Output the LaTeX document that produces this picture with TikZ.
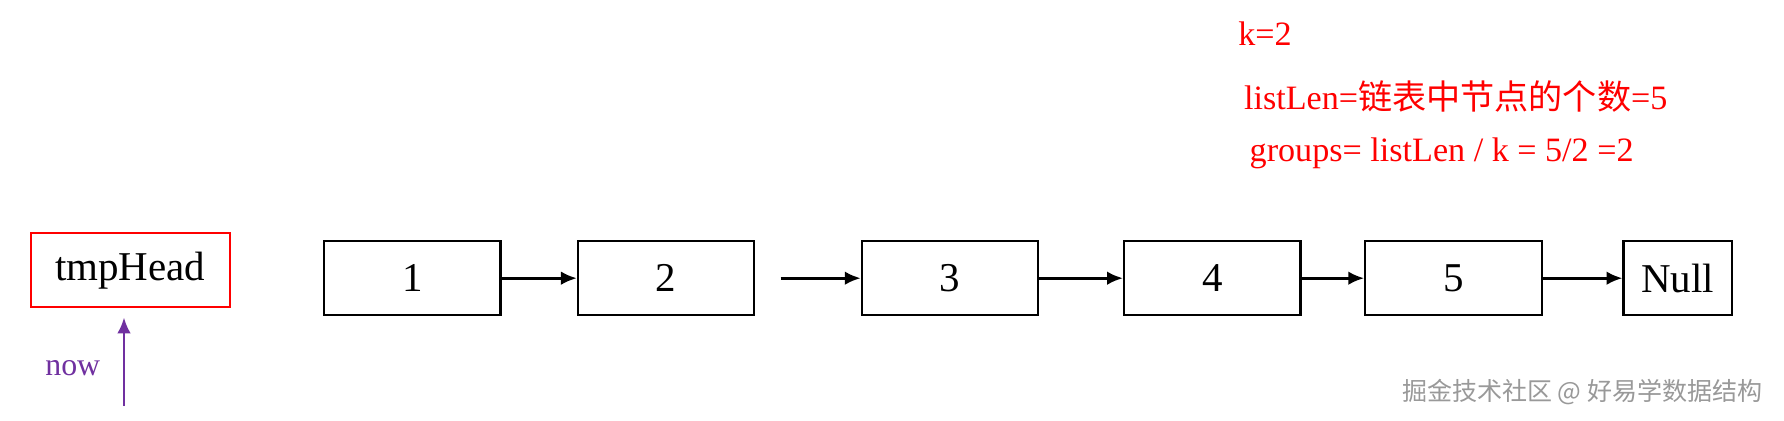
\documentclass[tikz,border=0pt]{standalone}
\usepackage{fontspec}
\setmainfont{Liberation Serif}
\newfontfamily\cjk{Noto Sans CJK SC}
\usetikzlibrary{arrows.meta}
\definecolor{pur}{RGB}{112,48,160}
\begin{document}
\begin{tikzpicture}[x=0.5pt,y=-0.5pt,
  nd/.style={draw,line width=1pt,minimum width=77.5pt,minimum height=32.5pt,inner sep=0pt,font=\fontsize{18}{20}\selectfont},
  arr/.style={-{Latex[length=7pt,width=6pt]},line width=1.2pt},
  red txt/.style={text=red,font=\fontsize{15}{18}\selectfont,anchor=west,inner sep=0pt}]
\useasboundingbox (0,0) rectangle (1568,370);
\node[nd,draw=red,minimum width=87.5pt] (th) at (114.5,237.5) {tmpHead};
\node[nd] (n1) at (362.5,244.5) {1};
\node[nd] (n2) at (585.5,244.5) {2};
\node[nd] (n3) at (835,244.5) {3};
\node[nd] (n4) at (1065.5,244.5) {4};
\node[nd] (n5) at (1277.5,244.5) {5};
\node[nd,minimum width=47.5pt] (nl) at (1474.5,244.5) {Null};
\coordinate (f) at (686,244.5);
\draw[arr] (n1) -- (n2);
\draw[arr] (f) -- (n3);
\draw[arr] (n3) -- (n4);
\draw[arr] (n4) -- (n5);
\draw[arr] (n5) -- (nl);
\coordinate (nb) at (109,357);
\coordinate (nt) at (109,279);
\draw[arr,draw=pur,fill=pur] (nb) -- (nt);
\node[text=pur,font=\fontsize{14}{16}\selectfont] (now) at (64,324) {now};
\node[red txt] (k) at (1088,30) {k=2};
\node[red txt] (ll) at (1093,85) {listLen={\cjk 链表中节点的个数}=5};
\node[red txt] (gr) at (1098,135) {groups= listLen / k = 5/2 =2};
\node[text=gray!80,font=\cjk\fontsize{11}{13}\selectfont,anchor=east] (wm) at (1556,345) {掘金技术社区 @ 好易学数据结构};
\end{tikzpicture}
\end{document}
